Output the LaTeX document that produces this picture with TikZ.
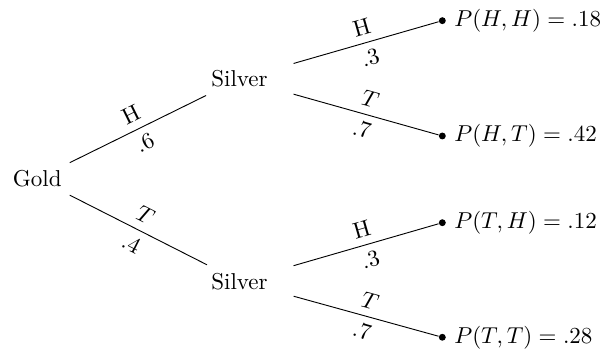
\documentclass[tikz,border=0pt]{standalone}
\usepackage{amsmath,amssymb}
\usepackage{tikz}
\usetikzlibrary{positioning}

\begin{document}
\begin{tikzpicture}[
        coin/.style={text width=4em, align=center},
        outcome/.style={circle, fill, minimum width=3pt, inner sep=0pt},
        prob/.style={above, sloped},
        val/.style={below, sloped}
    ]
    \useasboundingbox (-0.570,-2.680) rectangle (8.711,2.732);

    % First toss
    \node (gold) at (0,0) {Gold};
    \node[coin] (silverH) at (3.092,1.524) {Silver};
    \node[coin] (silverT) at (3.092,-1.569) {Silver};

    % Second toss outcomes
    \node[outcome] (hh) at (6.193,2.416) {};
    \node[outcome] (ht) at (6.193,0.653) {};
    \node[outcome] (th) at (6.193,-0.673) {};
    \node[outcome] (tt) at (6.193,-2.425) {};
    \node[right=0pt of hh] (phh) {$P(H,H) = .18$};
    \node[right=0pt of ht] (pht) {$P(H,T) = .42$};
    \node[right=0pt of th] (pth) {$P(T,H) = .12$};
    \node[right=0pt of tt] (ptt) {$P(T,T) = .28$};

    % Branches
    \draw (gold) -- node[prob] {H} node[val] {$.6$} (silverH);
    \draw (gold) -- node[prob] {$T$} node[val] {$.4$} (silverT);
    \draw (silverH) -- node[prob] {H} node[val] {$.3$} (hh);
    \draw (silverH) -- node[prob] {$T$} node[val] {$.7$} (ht);
    \draw (silverT) -- node[prob] {H} node[val] {$.3$} (th);
    \draw (silverT) -- node[prob] {$T$} node[val] {$.7$} (tt);
\end{tikzpicture}
\end{document}
